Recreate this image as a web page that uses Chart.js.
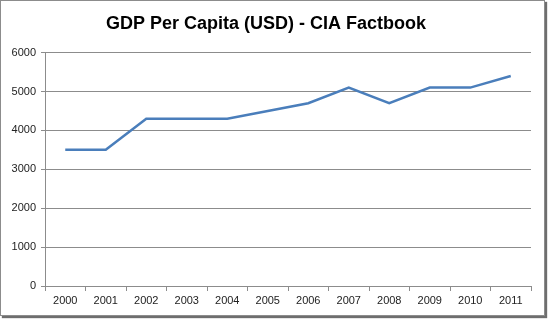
<!DOCTYPE html>
<html>
<head>
<meta charset="utf-8">
<script src="https://cdn.jsdelivr.net/npm/chart.js@4"></script>
<style>
  body { margin: 0; background: #fff; }
  .frame {
    position: absolute; left: 0; top: 0;
    width: 543px; height: 314px;
    border: 1px solid #8c8c8c;
    box-shadow: 2px 2px 1px #6e6e6e;
    background: #fff;
  }
</style>
</head>
<body>
<div class="frame"><canvas id="gdpChart" width="543" height="314"></canvas></div>
<script>
// GDP per capita
const years = ['2000', '2001', '2002', '2003', '2004', '2005', '2006', '2007', '2008', '2009', '2010', '2011'];
const gdpPerCapita = [3500, 3500, 4300, 4300, 4300, 4500, 4700, 5100, 4700, 5100, 5100, 5400];
const yTicks = [0, 1000, 2000, 3000, 4000, 5000, 6000];

const tickFont = { family: 'Liberation Sans', size: 11 };

new Chart(document.getElementById('gdpChart'), {
    type: 'line',
    data: {
        labels: years,
        datasets: [{
            data: gdpPerCapita,
            borderColor: '#4a7ebb',
            borderWidth: 2.5,
            pointRadius: 0,
            tension: 0,
            fill: false,
        }]
    },
    options: {
        responsive: false,
        animation: false,
        layout: { padding: { left: 0, right: 13, top: 0, bottom: 0 } },
        plugins: {
            legend: { display: false },
            tooltip: { enabled: false },
            title: {
                display: true,
                text: 'GDP Per Capita (USD) - CIA Factbook',
                color: '#000',
                font: { family: 'Liberation Sans', size: 18, weight: 'bold' },
                padding: { top: 12, bottom: 18 },
            }
        },
        scales: {
            x: {
                offset: true,
                grid: { display: true, drawOnChartArea: false, offset: true, color: '#8c8c8c', tickLength: 5 },
                border: { color: '#8c8c8c' },
                ticks: { color: '#222', font: tickFont, padding: 3, maxRotation: 0 },
                afterFit: s => { s.height = 29; }
            },
            y: {
                min: 0, max: 6000,
                afterBuildTicks: s => { s.ticks = yTicks.map(v => ({ value: v })); },
                grid: { color: '#8c8c8c', tickLength: 4 },
                border: { color: '#8c8c8c' },
                ticks: { color: '#222', font: tickFont, padding: 5, callback: v => String(v) },
                afterFit: s => { s.width = 44; }
            }
        }
    }
});
</script>
</body>
</html>
